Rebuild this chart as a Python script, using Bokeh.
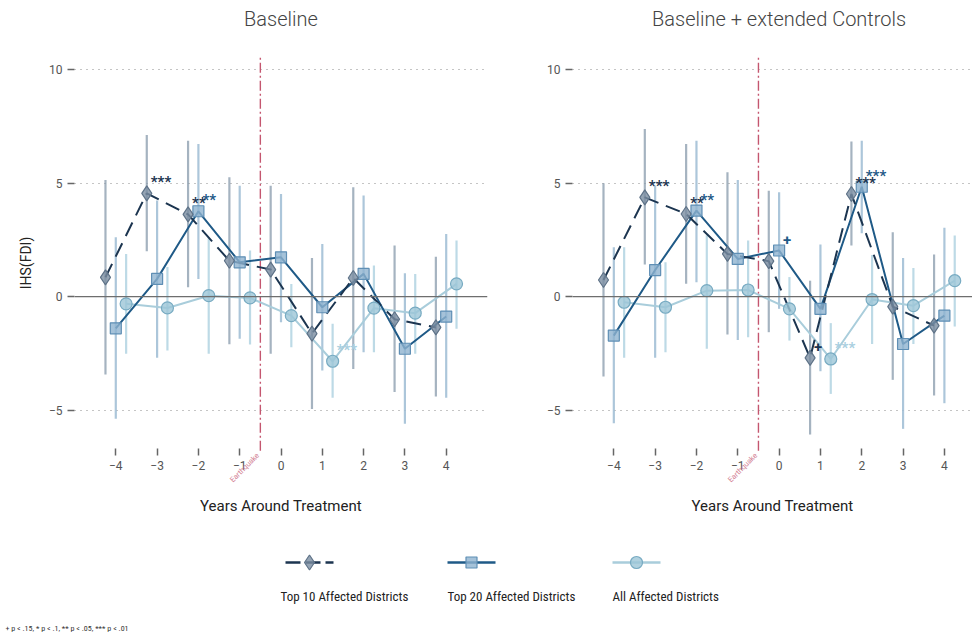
from bokeh.plotting import figure
from bokeh.layouts import column, row
from bokeh.models import Range1d, Span, Label, FixedTicker
from bokeh.core.properties import value
from bokeh.embed import file_html
from bokeh.resources import INLINE

# ---------------- data ----------------
years = [-4, -3, -2, -1, 0, 1, 2, 3, 4]
y_ticks = [-5, 0, 5, 10]
event_x = -0.5

# Panel 1: Baseline
b_top10 = [0.85, 4.55, 3.62, 1.58, 1.19, -1.63, 0.82, -1.00, -1.36]
b_top10_lo = [-3.44, 2.00, 0.41, -2.10, -2.52, -4.95, -3.19, -4.21, -4.40]
b_top10_hi = [5.14, 7.12, 6.87, 5.26, 4.89, 1.70, 4.82, 2.25, 1.76]
b_top10_sig = ["", "***", "**", "", "", "", "", "", ""]

b_top20 = [-1.40, 0.78, 3.76, 1.51, 1.73, -0.47, 1.00, -2.30, -0.88]
b_top20_lo = [-5.39, -2.70, 0.78, -1.86, -1.13, -3.26, -2.45, -5.61, -4.46]
b_top20_hi = [2.61, 4.23, 6.72, 4.89, 4.52, 2.32, 4.45, 1.03, 2.76]
b_top20_sig = ["", "", "**", "", "", "", "", "", ""]

b_all = [-0.32, -0.50, 0.04, -0.06, -0.84, -2.85, -0.51, -0.73, 0.56]
b_all_lo = [-2.52, -2.38, -2.52, -2.11, -2.23, -4.46, -2.45, -2.52, -1.42]
b_all_hi = [1.88, 1.30, 2.61, 2.03, 0.55, -1.20, 1.37, 1.00, 2.47]
b_all_sig = ["", "", "", "", "", "***", "", "", ""]

# Panel 2: Baseline + extended Controls
e_top10 = [0.73, 4.37, 3.64, 1.88, 1.56, -2.70, 4.52, -0.44, -1.28]
e_top10_lo = [-3.52, 1.41, 0.56, -1.67, -1.57, -6.08, 2.25, -3.67, -4.36]
e_top10_hi = [5.00, 7.39, 6.73, 5.48, 4.67, 0.70, 6.83, 2.83, 1.85]
e_top10_sig = ["", "***", "**", "", "", "+", "***", "", ""]

e_top20 = [-1.72, 1.17, 3.79, 1.66, 2.03, -0.54, 4.84, -2.09, -0.84]
e_top20_lo = [-5.58, -2.70, 0.63, -1.91, -0.54, -3.29, 2.79, -5.83, -4.70]
e_top20_hi = [2.17, 4.90, 6.87, 5.14, 4.60, 2.29, 6.87, 1.70, 3.03]
e_top20_sig = ["", "", "**", "", "+", "", "***", "", ""]

e_all = [-0.25, -0.47, 0.26, 0.29, -0.54, -2.75, -0.13, -0.40, 0.70]
e_all_lo = [-2.70, -2.45, -2.30, -1.79, -1.94, -4.29, -2.09, -2.09, -1.32]
e_all_hi = [2.17, 1.51, 2.70, 2.47, 0.86, -1.17, 1.83, 1.26, 2.69]
e_all_sig = ["", "", "", "", "", "***", "", "", ""]

panel_titles = ["Baseline", "Baseline + extended Controls"]
series_names = ["Top 10 Affected Districts", "Top 20 Affected Districts", "All Affected Districts"]
footnote = "+ p < .15, * p < .1, ** p < .05, *** p < .01"

# ---------------- styles ----------------
FONT = "Roboto"
LIGHT = "Roboto Light, Roboto"
NARROW = "Liberation Sans Narrow, Roboto Condensed, Roboto"
PX_PER_X = 41.3
Y_TOP, Y_PLOT_TOP, Y_AXIS, Y_BOTTOM = 13.05, 10.62, -6.7, -10.09
Y_TITLE = 12.25
styles = [
    dict(off=-0.25, line="#1c3550", dash="15 8", marker="diamond", size=15,
         fill="#7a8da1", edge="#5f7388", bar="#8799ab", bar_alpha=0.75, star="#1c3550"),
    dict(off=0.0, line="#1f5a87", dash="solid", marker="square", size=11,
         fill="#8fb3cf", edge="#5f8fb5", bar="#9dbcd3", bar_alpha=0.85, star="#1f5a87"),
    dict(off=0.25, line="#a9cddb", dash="solid", marker="circle", size=12,
         fill="#9cc6d7", edge="#78abc2", bar="#b6d6e3", bar_alpha=0.9, star="#a9cfe0"),
]


def panel(title, data, ylabel, left_border, right_border, x_max):
    p = figure(frame_width=int(round(PX_PER_X * (x_max + 5))), frame_height=525,
               x_range=Range1d(-5, x_max), y_range=Range1d(Y_BOTTOM, Y_TOP),
               output_backend="svg", toolbar_location=None,
               min_border_left=left_border, min_border_right=right_border,
               min_border_top=0, min_border_bottom=0)
    p.outline_line_color = None
    p.background_fill_color = "white"
    p.border_fill_color = "white"

    p.xgrid.grid_line_color = None
    p.ygrid.grid_line_color = "#8a8a8a"
    p.ygrid.grid_line_dash = "1 5"
    p.ygrid.grid_line_width = 1.2

    p.xaxis.fixed_location = Y_AXIS
    p.xaxis.ticker = FixedTicker(ticks=years)
    p.yaxis.ticker = FixedTicker(ticks=y_ticks)
    for ax in (p.xaxis[0], p.yaxis[0]):
        ax.axis_line_color = None
        ax.major_tick_in = 0
        ax.major_tick_out = 7
        ax.minor_tick_line_color = None
        ax.major_tick_line_color = "#666666"
        ax.major_tick_line_width = 1.5
        ax.major_label_text_font = FONT
        ax.major_label_text_font_size = "12px"
        ax.major_label_text_color = "#555555"
        ax.axis_label_text_font = FONT
        ax.axis_label_text_font_style = "normal"
        ax.axis_label_text_color = "#222222"
    p.xaxis.major_label_standoff = 5
    p.xaxis.axis_label = "Years Around Treatment"
    p.xaxis.axis_label_text_font_size = "15px"
    p.xaxis.axis_label_standoff = 24
    p.yaxis.major_label_standoff = 5
    if ylabel:
        p.yaxis.axis_label = ylabel
        p.yaxis.axis_label_text_font_size = "14px"
        p.yaxis.axis_label_standoff = 12

    # panel title
    p.add_layout(Label(x=0, y=Y_TITLE, text=title, text_align="center",
                       text_baseline="middle", text_font=LIGHT, text_font_size="20px",
                       text_color="#444444"))

    p.add_layout(Span(location=0, dimension="width", line_color="#6e6e6e", line_width=1.3))
    p.segment([event_x], [Y_AXIS - 0.1], [event_x], [Y_PLOT_TOP], line_color="#c4566f",
              line_width=1.4, line_dash="10 3 2 3")
    p.add_layout(Label(x=event_x - 0.06, y=Y_AXIS - 0.25, text="Earthquake", angle=45,
                       angle_units="deg", text_align="right", text_baseline="middle",
                       text_font=FONT, text_font_size="7.5px", text_color="#d27e92"))

    # error bars first
    for st, (vals, lo, hi, sig) in zip(styles, data):
        xs = [yr + st["off"] for yr in years]
        p.segment(xs, lo, xs, hi, line_color=st["bar"], line_width=2.2,
                  line_alpha=st["bar_alpha"])
    # lines (All first so darker lines on top)
    for st, (vals, lo, hi, sig) in reversed(list(zip(styles, data))):
        xs = [yr + st["off"] for yr in years]
        p.line(xs, vals, line_color=st["line"], line_width=2, line_dash=st["dash"])
    for st, (vals, lo, hi, sig) in reversed(list(zip(styles, data))):
        xs = [yr + st["off"] for yr in years]
        p.scatter(xs, vals, marker=st["marker"], size=st["size"], fill_color=st["fill"],
                  fill_alpha=0.8, line_color=st["edge"], line_width=1.2)
        p.text(xs, vals, text=sig, x_offset=4, y_offset=-11, text_align="left",
               text_baseline="alphabetic", text_font=value(FONT), text_font_size="15px",
               text_font_style="bold", text_color=st["star"])
    return p


p1 = panel(panel_titles[0],
           [(b_top10, b_top10_lo, b_top10_hi, b_top10_sig),
            (b_top20, b_top20_lo, b_top20_hi, b_top20_sig),
            (b_all, b_all_lo, b_all_hi, b_all_sig)],
           "IHS(FDI)", 74, 5, 5.0)
p2 = panel(panel_titles[1],
           [(e_top10, e_top10_lo, e_top10_hi, e_top10_sig),
            (e_top20, e_top20_lo, e_top20_hi, e_top20_sig),
            (e_all, e_all_lo, e_all_hi, e_all_sig)],
           None, 80, 0, 4.68)

# ---------------- legend strip ----------------
LW, LH = 972, 110
lg = figure(width=LW, height=LH, x_range=Range1d(0, LW), y_range=Range1d(LH, 0),
            output_backend="svg", toolbar_location=None, x_axis_type=None, y_axis_type=None,
            min_border=0)
lg.outline_line_color = None
lg.xgrid.grid_line_color = None
lg.ygrid.grid_line_color = None

key_left = [285, 447, 612]
label_left = [280, 447, 612]
key_len = 48
key_y = 37
label_y = 71
for st, kx, tx, name in zip(styles, key_left, label_left, series_names):
    lg.line([kx, kx + key_len], [key_y, key_y], line_color=st["line"], line_width=2.5,
            line_dash="15 5" if st["dash"] != "solid" else "solid")
    lg.scatter([kx + key_len / 2], [key_y], marker=st["marker"], size=st["size"],
               fill_color=st["fill"], fill_alpha=0.8, line_color=st["edge"], line_width=1.2)
    lg.text([tx], [label_y], text=[name], text_align="left", text_baseline="middle",
            text_font=value(NARROW), text_font_size="13px", text_color="#222222")
lg.text([5], [103], text=[footnote], text_align="left", text_baseline="middle",
        text_font=value(NARROW), text_font_size="8px", text_color="#333333")

layout = column(row(p1, p2, spacing=0), lg, spacing=0)
open("out.html", "w").write(file_html(layout, INLINE))
